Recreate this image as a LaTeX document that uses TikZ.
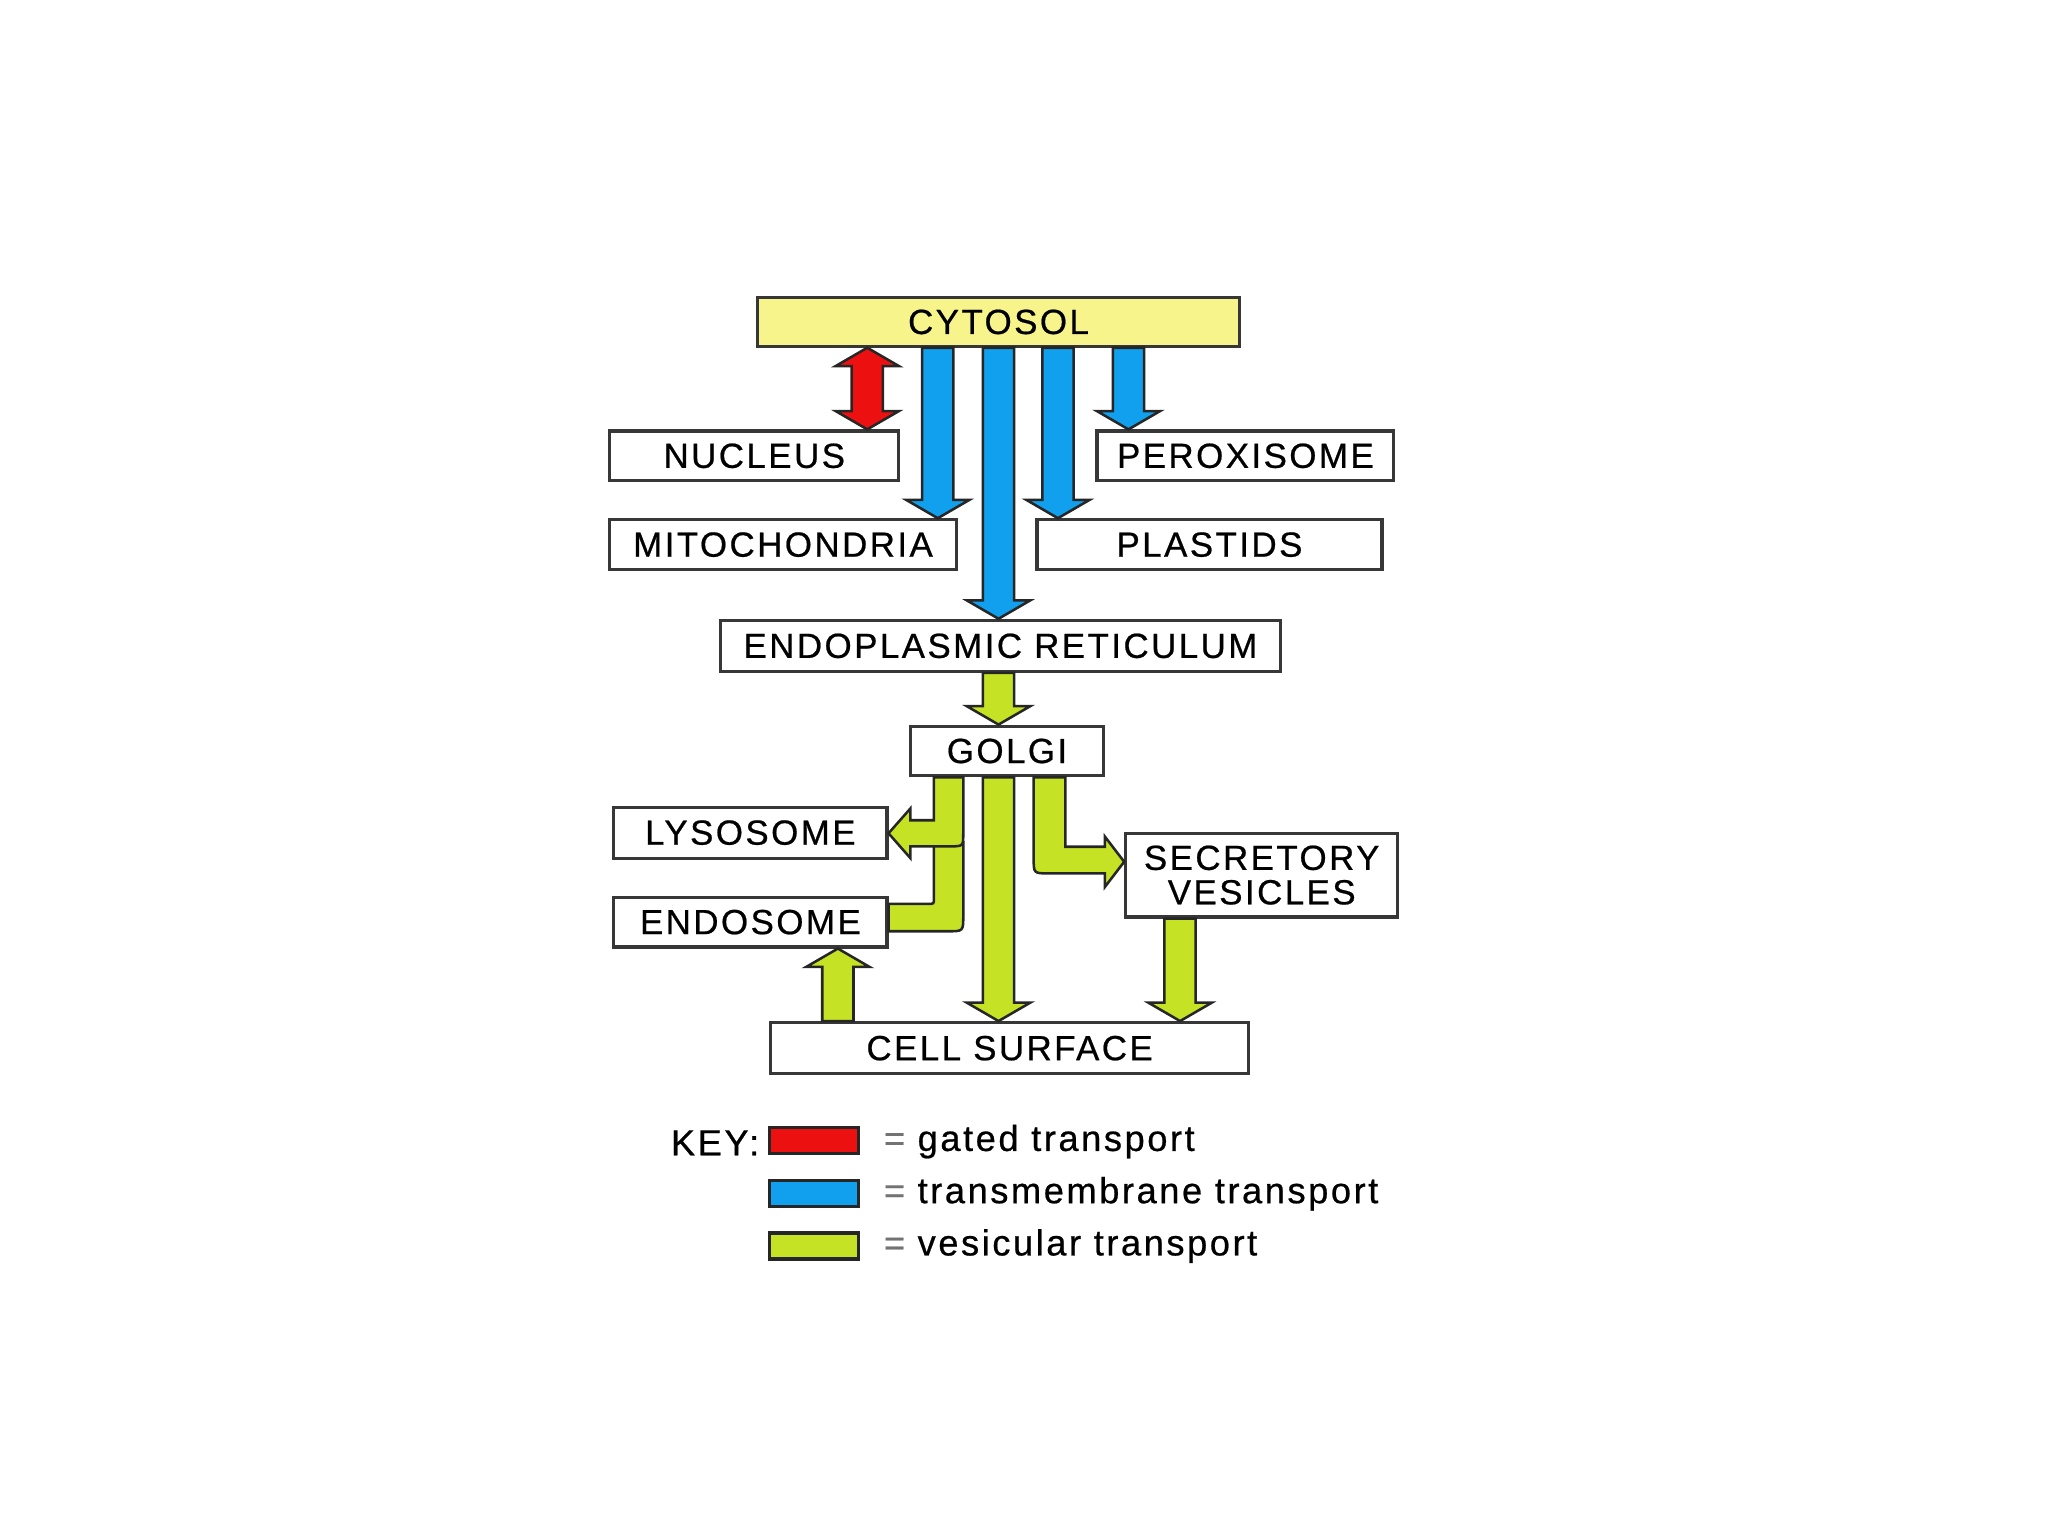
\documentclass[tikz,border=0pt]{standalone}
\usepackage{fontspec}
\setmainfont{Liberation Sans}[LetterSpace=7,FakeBold=0.6]
\usetikzlibrary{calc}
\definecolor{cyty}{RGB}{248,244,140}
\definecolor{gatedred}{RGB}{236,16,16}
\definecolor{tmblue}{RGB}{16,160,238}
\definecolor{vesgreen}{RGB}{198,226,36}
\definecolor{edge}{RGB}{55,55,55}
\def\hs{3.4pt}
\def\hh{6.9pt}
\def\hl{4.0pt}
\newcommand\downarr[3]{\filldraw[blk,fill=#1] let \p1=#2, \p2=#3 in
  ({\x1-\hs},\y1) -- ({\x1-\hs},{\y2+\hl}) -- ({\x1-\hh},{\y2+\hl}) -- (\x1,\y2)
  -- ({\x1+\hh},{\y2+\hl}) -- ({\x1+\hs},{\y2+\hl}) -- ({\x1+\hs},\y1) -- cycle;}
\newcommand\uparr[3]{\filldraw[blk,fill=#1] let \p1=#2, \p2=#3 in
  ({\x1-\hs},\y1) -- ({\x1-\hs},{\y2-\hl}) -- ({\x1-\hh},{\y2-\hl}) -- (\x1,\y2)
  -- ({\x1+\hh},{\y2-\hl}) -- ({\x1+\hs},{\y2-\hl}) -- ({\x1+\hs},\y1) -- cycle;}
\newcommand\dblarr[3]{\filldraw[blk,fill=#1] let \p1=#2, \p2=#3 in
  (\x1,\y1) -- ({\x1+\hh},{\y1-\hl}) -- ({\x1+\hs},{\y1-\hl}) -- ({\x1+\hs},{\y2+\hl})
  -- ({\x1+\hh},{\y2+\hl}) -- (\x1,\y2) -- ({\x1-\hh},{\y2+\hl}) -- ({\x1-\hs},{\y2+\hl})
  -- ({\x1-\hs},{\y1-\hl}) -- ({\x1-\hh},{\y1-\hl}) -- cycle;}
\begin{document}
\begin{tikzpicture}[x=0.01cm,y=-0.01cm,
  box/.style={draw=edge,line width=0.7pt,fill=white,inner sep=0pt,
    font=\fontsize{7.6}{7.5}\selectfont,align=center},
  blk/.style={draw=black!85,line width=0.55pt,line join=miter},
  swatch/.style={draw=black!85,line width=0.7pt},
  keytext/.style={font=\fontsize{7.9}{8}\selectfont,inner sep=0pt,anchor=west}]
\useasboundingbox (0,0) rectangle (1568,1176);
% boxes
\node[box,fill=cyty,minimum width=3.69cm,minimum height=0.37cm] (cyt) at (764.5,246.5) {CYTOSOL};
\node[box,minimum width=2.21cm,minimum height=0.38cm] (nuc) at (577.5,349) {NUCLEUS};
\node[box,minimum width=2.27cm,minimum height=0.38cm] (per) at (953.5,349) {PEROXISOME};
\node[box,minimum width=2.65cm,minimum height=0.38cm] (mito) at (599.5,417) {MITOCHONDRIA};
\node[box,minimum width=2.64cm,minimum height=0.38cm] (pla) at (926,417) {PLASTIDS};
\node[box,minimum width=4.28cm,minimum height=0.39cm] (er) at (766,494.5) {ENDOPLASMIC RETICULUM};
\node[box,minimum width=1.48cm,minimum height=0.38cm] (gol) at (771,575) {GOLGI};
\node[box,minimum width=2.09cm,minimum height=0.39cm] (lys) at (574.5,637.5) {LYSOSOME};
\node[box,minimum width=2.09cm,minimum height=0.38cm] (endo) at (574.5,706) {ENDOSOME};
\node[box,minimum width=2.08cm,minimum height=0.64cm] (sec) at (966,670) {SECRETORY\\VESICLES};
\node[box,minimum width=3.66cm,minimum height=0.39cm] (cell) at (773,802.5) {CELL SURFACE};
% gated / transmembrane arrows
\dblarr{gatedred}{(664,0 |- cyt.south)}{(664,0 |- nuc.north)}
\downarr{tmblue}{(718,0 |- cyt.south)}{(718,0 |- mito.north)}
\downarr{tmblue}{(764.5,0 |- cyt.south)}{(764.5,0 |- er.north)}
\downarr{tmblue}{(810,0 |- cyt.south)}{(810,0 |- pla.north)}
\downarr{tmblue}{(864,0 |- cyt.south)}{(864,0 |- per.north)}
% vesicular arrows
\downarr{vesgreen}{(764.5,0 |- er.south)}{(764.5,0 |- gol.north)}
\downarr{vesgreen}{(764.5,0 |- gol.south)}{(764.5,0 |- cell.north)}
\downarr{vesgreen}{(903.5,0 |- sec.south)}{(903.5,0 |- cell.north)}
\uparr{vesgreen}{(641.5,0 |- cell.north)}{(641.5,0 |- endo.south)}
% golgi -> endosome
\filldraw[blk,fill=vesgreen] (715,645) -- (715,688) .. controls (715,692) .. (711,692)
  -- (endo.east |- 0,692) -- (endo.east |- 0,713) -- (726,713)
  .. controls (737.5,713) .. (737.5,701) -- (737.5,645) -- cycle;
% golgi -> lysosome
\filldraw[blk,fill=vesgreen] (715,0 |- gol.south) -- (715,628) -- (697,628) -- (697,619)
  -- (lys.east |- 0,638) -- (697,657) -- (697,648) -- (727,648)
  .. controls (737.5,648) .. (737.5,638) -- (737.5,0 |- gol.south) -- cycle;
% golgi -> secretory vesicles
\filldraw[blk,fill=vesgreen] (791.4,0 |- gol.south) -- (791.4,657)
  .. controls (791.4,668.7) .. (803,668.7) -- (846,668.7) -- (846,679)
  -- (sec.west |- 0,659.8) -- (846,640.6) -- (846,648.3) -- (815.6,648.3)
  -- (815.6,0 |- gol.south) -- cycle;
% key
\node[keytext,anchor=east] (key) at (582,875) {KEY:};
\filldraw[swatch,fill=gatedred] (589,863) rectangle (657,883);
\filldraw[swatch,fill=tmblue] (589,904) rectangle (657,924);
\filldraw[swatch,fill=vesgreen] (589,944) rectangle (657,964);
\node[keytext] (k1) at (676,874) {\textcolor{black!55}{=} gated transport};
\node[keytext] (k2) at (676,914) {\textcolor{black!55}{=} transmembrane transport};
\node[keytext] (k3) at (676,954) {\textcolor{black!55}{=} vesicular transport};
\end{tikzpicture}
\end{document}
